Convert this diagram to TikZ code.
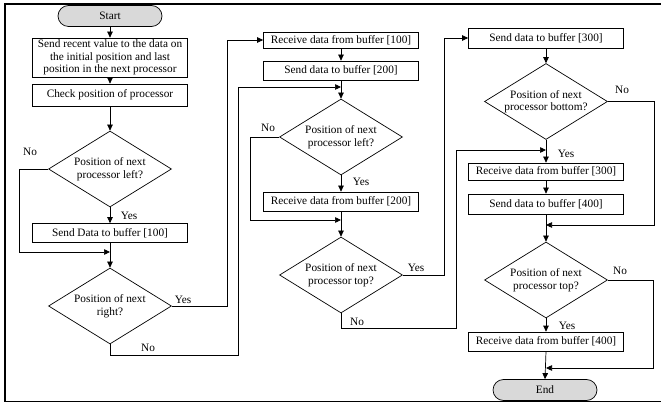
\documentclass[tikz,border=0pt]{standalone}
\usepackage{fontspec}
\setmainfont{Liberation Serif}
\usetikzlibrary{shapes.geometric,arrows.meta,positioning,calc}

\begin{document}
\begin{tikzpicture}[
    x=1pt, y=-1pt,
    font=\fontsize{11.3}{12.5}\selectfont,
    stage/.style={draw, minimum width=155pt, minimum height=19pt, align=center, line width=0.7pt, inner sep=1pt},
    decision/.style={draw, diamond, aspect=1.6, minimum width=123pt, minimum height=76pt, align=center, line width=0.7pt, inner sep=0pt},
    terminal/.style={draw, rounded corners=10.5pt, minimum width=104pt, minimum height=21pt, fill=gray!30, line width=0.7pt},
    arrow/.style={-{Triangle[length=6pt, width=5.5pt]}, line width=0.7pt},
    lbl/.style={inner sep=0pt}
]
\useasboundingbox (0,0) rectangle (661,403);
\draw[line width=1.6pt] (663,4) -- (5,4) -- (5,401.5) -- (663,401.5);

% first column
\node[terminal] (start) at (110,16) {Start};
\node[stage, minimum height=39pt] (b1) at (110,57.5) {Send recent value to the data on\\the initial position and last\\position in the next processor};
\node[stage, minimum height=22pt] (b2) at (110,95) {Check position of processor};
\node[decision] (d1) at (110,169) {Position of next\\processor left?};
\node[stage] (b3) at (110,233) {Send Data to buffer [100]};
\node[decision] (d2) at (110,306) {Position of next\\right?};

% second column
\node[stage, minimum height=16pt] (r1) at (341,40) {Receive data from buffer [100]};
\node[stage] (s2) at (341,70.5) {Send data to buffer [200]};
\node[decision] (d3) at (341,137) {Position of next\\processor left?};
\node[stage] (r2) at (341,201.5) {Receive data from buffer [200]};
\node[decision] (d4) at (341,275) {Position of next\\processor top?};

% third column
\node[stage, minimum height=20pt] (s3) at (546,38) {Send data to buffer [300]};
\node[decision] (d5) at (546,101.5) {Position of next\\processor bottom?};
\node[stage, minimum height=17pt] (r3) at (546,171.5) {Receive data from buffer [300]};
\node[stage, minimum height=20pt] (s4) at (546,204) {Send data to buffer [400]};
\node[decision] (d6) at (546,280) {Position of next\\processor top?};
\node[stage] (r4) at (546,341.5) {Receive data from buffer [400]};
\node[terminal] (fin) at (545,390) {End};

% merge points
\coordinate (m1) at (110,252);
\coordinate (m2) at (341,87);
\coordinate (m3) at (341,220);
\coordinate (m4) at (546,150);
\coordinate (m5) at (546,225);
\coordinate (m6) at (546,368);

\foreach \i/\j in {start/b1, b1/b2, b2/d1, d1/b3, b3/d2, r1/s2, s2/d3, d3/r2, r2/d4, s3/d5, d5/r3, r3/s4, s4/d6, d6/r4, r4/fin}
  \draw[arrow] (\i.south) -- (\j.north);

\draw[arrow] (d1.west) -- ++(-29,0) |- (m1);
\draw[arrow] (d2.east) -- ++(55,0) |- (r1.west);
\draw[arrow] (d2.south) -- ++(0,11) -- ++(128,0) |- (m2);
\draw[arrow] (d3.west) -- ++(-29,0) |- (m3);
\draw[arrow] (d4.east) -- ++(41,0) |- (s3.west);
\draw[arrow] (d4.south) -- ++(0,15) -- ++(115,0) |- (m4);
\draw[arrow] (d5.east) -- ++(46,0) |- (m5);
\draw[arrow] (d6.east) -- ++(45,0) |- (m6);

% labels
\node[lbl] (n1) at (30,152) {No};
\node[lbl] (y1) at (129,216) {Yes};
\node[lbl] (y2) at (183,300) {Yes};
\node[lbl] (n2) at (148,348) {No};
\node[lbl] (n3) at (268,128) {No};
\node[lbl] (y3) at (361,182) {Yes};
\node[lbl] (y4) at (416,268) {Yes};
\node[lbl] (n4) at (357,322) {No};
\node[lbl] (n5) at (622,90) {No};
\node[lbl] (y5) at (566,154) {Yes};
\node[lbl] (n6) at (620,271) {No};
\node[lbl] (y6) at (567,326) {Yes};
\end{tikzpicture}
\end{document}
